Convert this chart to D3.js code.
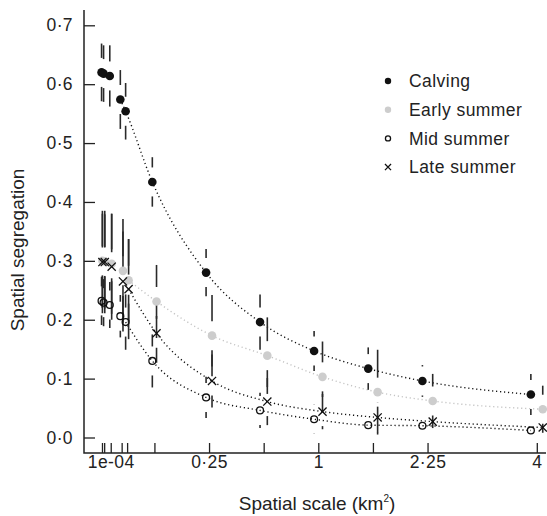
<!DOCTYPE html>
<html><head><meta charset="utf-8">
<script src="https://cdn.jsdelivr.net/npm/d3@7"></script>
<style>
body{margin:0;background:#fff}
svg{display:block}
text{font-family:"Liberation Sans",Arial,Helvetica,sans-serif;fill:#222}
</style>
</head><body>
<svg id="chart" width="547" height="516"></svg>
<script>
// Spatial scales (km^2): square cells of side 0.01 ... 2 km
const areas = [1e-4, 4e-4, 0.0025, 0.01, 0.015625, 0.0625, 0.25, 0.5625, 1, 1.5625, 2.25, 4];

const calving     = [0.620, 0.618, 0.614, 0.574, 0.554, 0.434, 0.280, 0.196, 0.147, 0.117, 0.096, 0.073];
const calvingErr  = [0.049, 0.048, 0.052, 0.050, 0.048, 0.042, 0.040, 0.047, 0.034, 0.036, 0.027, 0.035];
const early       = [0.300, 0.299, 0.295, 0.283, 0.267, 0.231, 0.173, 0.139, 0.103, 0.077, 0.062, 0.048];
const earlyErr    = [0.080, 0.080, 0.085, 0.088, 0.070, 0.062, 0.069, 0.065, 0.060, 0.072, 0.046, 0.040];
const mid         = [0.232, 0.229, 0.225, 0.206, 0.196, 0.130, 0.068, 0.046, 0.031, 0.021, 0.020, 0.012];
const midErr      = [0.041, 0.040, 0.039, 0.036, 0.047, 0.045, 0.035, 0.030, 0.025, 0.020, 0.015, 0.012];
const late        = [0.298, 0.298, 0.290, 0.265, 0.252, 0.177, 0.096, 0.061, 0.044, 0.034, 0.027, 0.017];
const lateErr     = [0.087, 0.087, 0.090, 0.085, 0.085, 0.050, 0.045, 0.040, 0.030, 0.025, 0.020, 0.020];

const seriesNames = ["Calving", "Early summer", "Mid summer", "Late summer"];

const yTicks = [0, 0.1, 0.2, 0.3, 0.4, 0.5, 0.6, 0.7];
const xLabelAt = [0.0025, 0.25, 1, 2.25, 4];
const xLabels = ["1e-04", "0·25", "1", "2·25", "4"];

// ---- layout ----
const svg = d3.select("#chart");
const frame = {left: 84, right: 546, top: 10, bottom: 453};
const x = d3.scaleSqrt().domain([0, 4]).range([99.8, 536.8]);
const y = d3.scaleLinear().domain([0, 0.7]).range([437.5, 25.3]);
const gap = 14.5;
const tickFont = 17.5, titleFont = 19;

const series = [
  {name: seriesNames[0], v: calving, e: calvingErr, shape: "dot",    fill: "#111",    line: "#111",    dodge: -1, start: 3},
  {name: seriesNames[1], v: early,   e: earlyErr,   shape: "dot",    fill: "#cdcdcd", line: "#c4c4c4", dodge: 1,  start: 4},
  {name: seriesNames[2], v: mid,     e: midErr,     shape: "circle", fill: "none",    line: "#111",    dodge: -1, start: 4},
  {name: seriesNames[3], v: late,    e: lateErr,    shape: "cross",  fill: "none",    line: "#111",    dodge: 1,  start: 4}
];
const px = (s, i) => x(areas[i]) + s.dodge * 4.2 * Math.pow(areas[i], 0.25);

// ---- axes ----
const yAxis = d3.axisLeft(y).tickValues(yTicks).tickSizeInner(-11).tickSizeOuter(0).tickPadding(11)
  .tickFormat(d => d3.format(".1f")(d).replace(".", "·"));
const gy = svg.append("g").attr("transform", `translate(${frame.left},0)`).call(yAxis);
gy.select(".domain").remove();
gy.selectAll(".tick line").attr("stroke", "#222").attr("stroke-width", 1.3);
gy.selectAll(".tick text").attr("font-size", tickFont).attr("letter-spacing", 0.4).attr("fill", "#222");

const xAxis = d3.axisBottom(x).tickValues(areas).tickSizeInner(-10).tickSizeOuter(0).tickFormat("");
const gx = svg.append("g").attr("transform", `translate(0,${frame.bottom})`).call(xAxis);
gx.select(".domain").remove();
gx.selectAll(".tick line").attr("stroke", "#222").attr("stroke-width", 1.3);

const xLab = d3.axisBottom(x).tickValues(xLabelAt).tickSize(0).tickPadding(3).tickFormat((d, i) => xLabels[i]);
const gxl = svg.append("g").attr("transform", `translate(0,${frame.bottom})`).call(xLab);
gxl.select(".domain").remove();
gxl.selectAll(".tick text").attr("font-size", tickFont).attr("letter-spacing", 0.4).attr("fill", "#222");

svg.append("path")
  .attr("d", `M${frame.left},${frame.top}V${frame.bottom}H${frame.right}`)
  .attr("fill", "none").attr("stroke", "#222").attr("stroke-width", 1.5);

svg.append("text").attr("transform", `translate(24,250) rotate(-90)`)
  .attr("text-anchor", "middle").attr("font-size", titleFont).text("Spatial segregation");

const xt = svg.append("text").attr("x", 317).attr("y", 510).attr("text-anchor", "middle").attr("font-size", titleFont);
xt.append("tspan").text("Spatial scale (km");
xt.append("tspan").attr("font-size", 10).attr("dy", -8).text("2");
xt.append("tspan").attr("dy", 8).text(")");

// ---- fitted curves (dotted) ----
const lineGen = d3.line().curve(d3.curveMonotoneX);
series.forEach(s => {
  const pts = s.v.map((v, i) => [px(s, i), y(v)]).slice(s.start);
  svg.append("path").attr("d", lineGen(pts)).attr("fill", "none")
    .attr("stroke", s.line).attr("stroke-width", 1.4).attr("stroke-dasharray", "1.2,2.8");
});

// ---- error bars with gap ----
series.forEach(s => {
  const g = svg.append("g");
  s.v.forEach((v, i) => {
    const cx = px(s, i);
    const yp = y(v), yu = y(v + s.e[i]), yl = y(v - s.e[i]);
    if (yp - gap > yu) g.append("line").attr("x1", cx).attr("x2", cx).attr("y1", yu).attr("y2", yp - gap)
      .attr("stroke", "#2a2a2a").attr("stroke-width", 1.6);
    if (yp + gap < yl) g.append("line").attr("x1", cx).attr("x2", cx).attr("y1", yp + gap).attr("y2", yl)
      .attr("stroke", "#2a2a2a").attr("stroke-width", 1.6);
  });
});

// ---- markers ----
function marker(g, s, cx, cy, size) {
  if (s.shape === "dot") {
    g.append("circle").attr("cx", cx).attr("cy", cy).attr("r", size).attr("fill", s.fill);
  } else if (s.shape === "circle") {
    g.append("circle").attr("cx", cx).attr("cy", cy).attr("r", size * 0.8).attr("fill", "none")
      .attr("stroke", "#111").attr("stroke-width", 1.3);
  } else {
    const h = size * 0.95;
    g.append("path").attr("d", `M${cx - h},${cy - h}L${cx + h},${cy + h}M${cx - h},${cy + h}L${cx + h},${cy - h}`)
      .attr("stroke", "#111").attr("stroke-width", 1.3).attr("fill", "none");
  }
}
series.forEach(s => {
  const g = svg.append("g");
  s.v.forEach((v, i) => marker(g, s, px(s, i), y(v), 4.3));
});

// ---- legend ----
const lg = svg.append("g");
series.forEach((s, i) => {
  const cy = 81 + i * 28.7;
  marker(lg, s, 388, cy, 3.2);
  lg.append("text").attr("x", 409).attr("y", cy).attr("dy", "0.35em").attr("font-size", tickFont)
    .attr("letter-spacing", 0.45).text(s.name);
});
</script>
</body></html>
